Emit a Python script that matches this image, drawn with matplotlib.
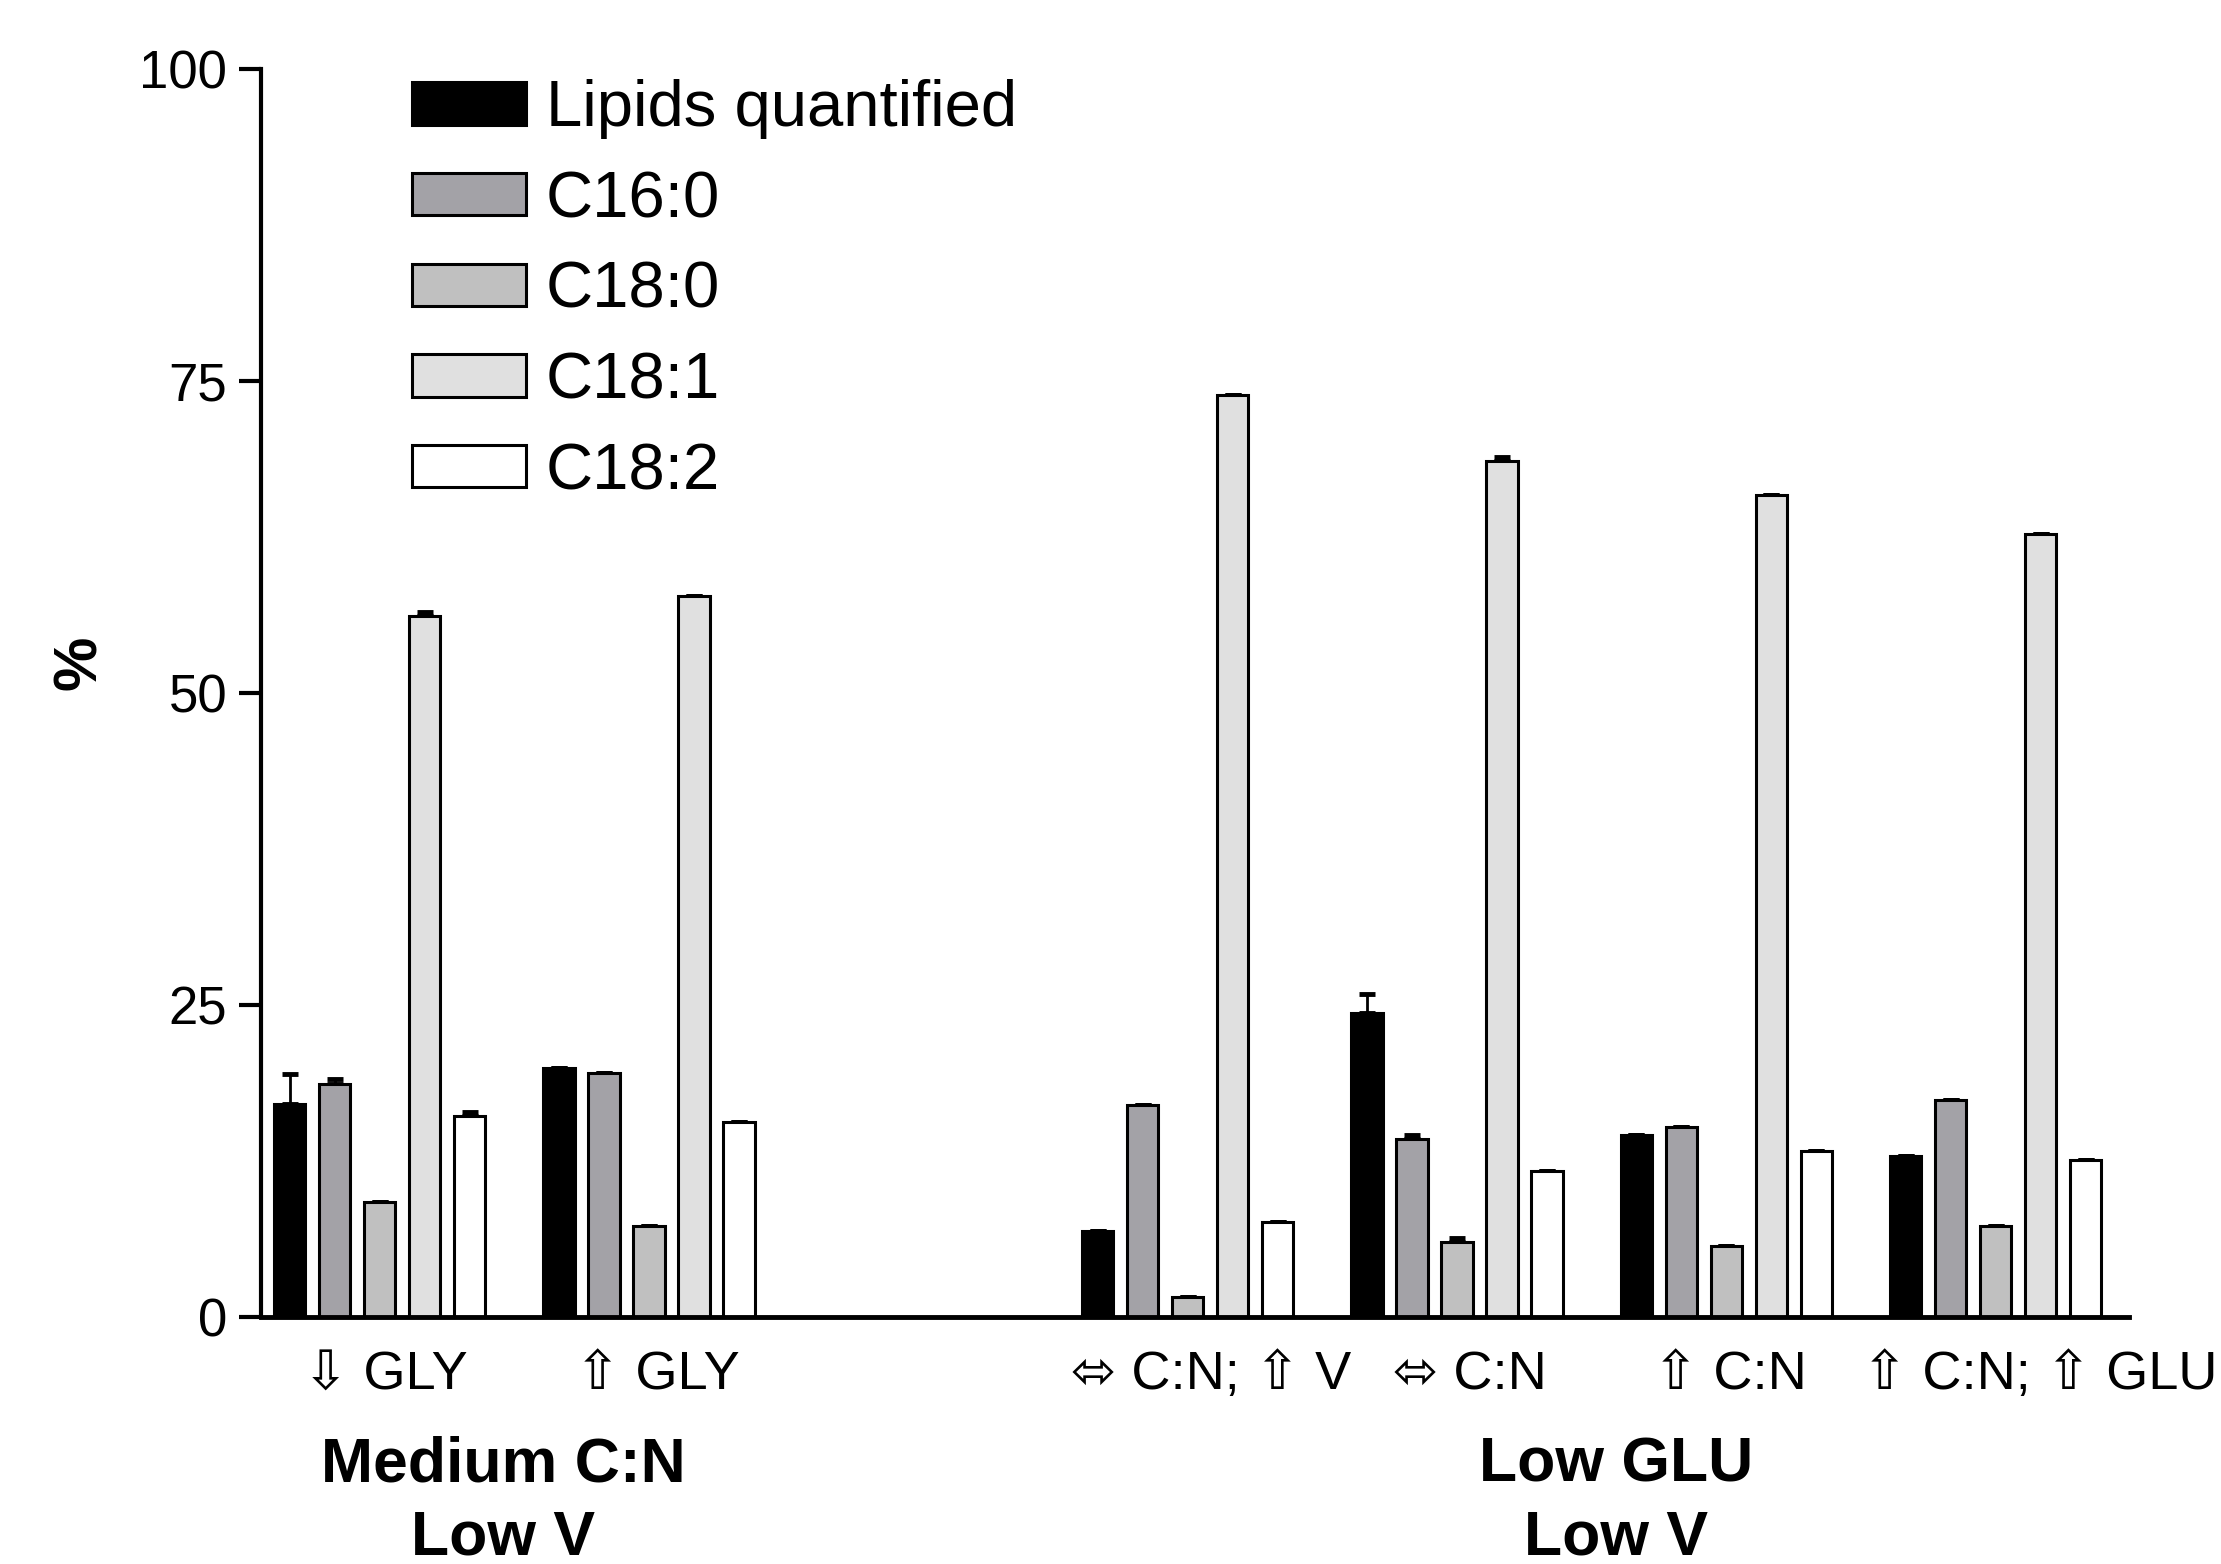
import numpy as np
import matplotlib
matplotlib.use('Agg')
import matplotlib.pyplot as plt
import matplotlib.transforms as mtransforms
from matplotlib.patches import Patch

plt.rcParams['font.family'] = ['Liberation Sans', 'DejaVu Sans']

# data
series = ['Lipids quantified', 'C16:0', 'C18:0', 'C18:1', 'C18:2']
colors = ['#000000', '#a3a2a7', '#c0c0c0', '#e0e0e0', '#ffffff']
conditions = ['\u21e9 GLY', '\u21e7 GLY', '\u2b04 C:N; \u21e7 V', '\u2b04 C:N',
              '\u21e7 C:N', '\u21e7 C:N; \u21e7 GLU']
group_pos = [0, 1, 3, 4, 5, 6]

lipids = [17.1, 20.0, 6.9, 24.4, 14.6, 12.9]
c160 = [18.7, 19.6, 17.0, 14.3, 15.2, 17.4]
c180 = [9.2, 7.3, 1.6, 6.0, 5.7, 7.3]
c181 = [56.2, 57.8, 73.9, 68.6, 65.9, 62.8]
c182 = [16.1, 15.6, 7.6, 11.7, 13.3, 12.6]

lipids_err = [2.4, 0, 0, 1.5, 0, 0]
c160_err = [0.4, 0, 0, 0.3, 0, 0]
c180_err = [0, 0, 0, 0.3, 0, 0]
c181_err = [0.3, 0, 0, 0.3, 0, 0]
c182_err = [0.3, 0, 0, 0, 0, 0]

values = [lipids, c160, c180, c181, c182]
errors = [lipids_err, c160_err, c180_err, c181_err, c182_err]

fig = plt.figure(figsize=(22.21, 15.64), dpi=100)
ax = fig.add_axes([0.1173, 0.1579, 0.9586 - 0.1173, 0.9556 - 0.1579])

step = 0.167
width = 0.116
x = np.array(group_pos, dtype=float)
for i in range(len(series)):
    err = np.array(errors[i])
    ax.bar(x + (i - 2) * step, values[i], width, color=colors[i],
           edgecolor='black', linewidth=2.2, zorder=2,
           yerr=[np.zeros_like(err), err],
           error_kw=dict(ecolor='black', elinewidth=2, capsize=6, capthick=3.5, zorder=1))

ax.set_ylim(0, 100)
ax.set_xlim(-0.442, 6.495)
ax.set_yticks([0, 25, 50, 75, 100])
ax.set_xticks(group_pos)
ax.set_xticklabels(conditions)
ax.tick_params(axis='y', length=16, width=3, labelsize=38, pad=8)
ax.tick_params(axis='x', length=0, labelsize=39, pad=24)
for s in ['top', 'right']:
    ax.spines[s].set_visible(False)
ax.spines['left'].set_linewidth(3)
ax.spines['bottom'].set_linewidth(3.5)

# nudge the condition labels like in the original figure (inches)
nudges = [0.06, 0.08, 0.23, 0.13, 0.04, 0.44]
for lab, dx in zip(ax.get_xticklabels(), nudges):
    lab.set_transform(lab.get_transform() +
                      mtransforms.ScaledTranslation(dx, 0, fig.dpi_scale_trans))

ax.set_ylabel('%', fontsize=44, fontweight='bold')
ax.yaxis.set_label_coords(-0.081, 0.524)

# group labels
ax.text(0.46, -0.095, 'Medium C:N\nLow V', transform=ax.get_xaxis_transform(),
        ha='center', va='top', fontsize=45, fontweight='bold', linespacing=1.3)
ax.text(4.59, -0.095, 'Low GLU\nLow V', transform=ax.get_xaxis_transform(),
        ha='center', va='top', fontsize=45, fontweight='bold', linespacing=1.3)

handles = [Patch(facecolor=c, edgecolor='black', linewidth=2.2) for c in colors]
ax.legend(handles, series, loc='upper left', bbox_to_anchor=(0.081, 0.992),
          frameon=False, fontsize=47, handlelength=1.75, handleheight=0.62,
          handletextpad=0.3, labelspacing=0.47, borderpad=0, borderaxespad=0)

fig.savefig('out.png', dpi=100)
